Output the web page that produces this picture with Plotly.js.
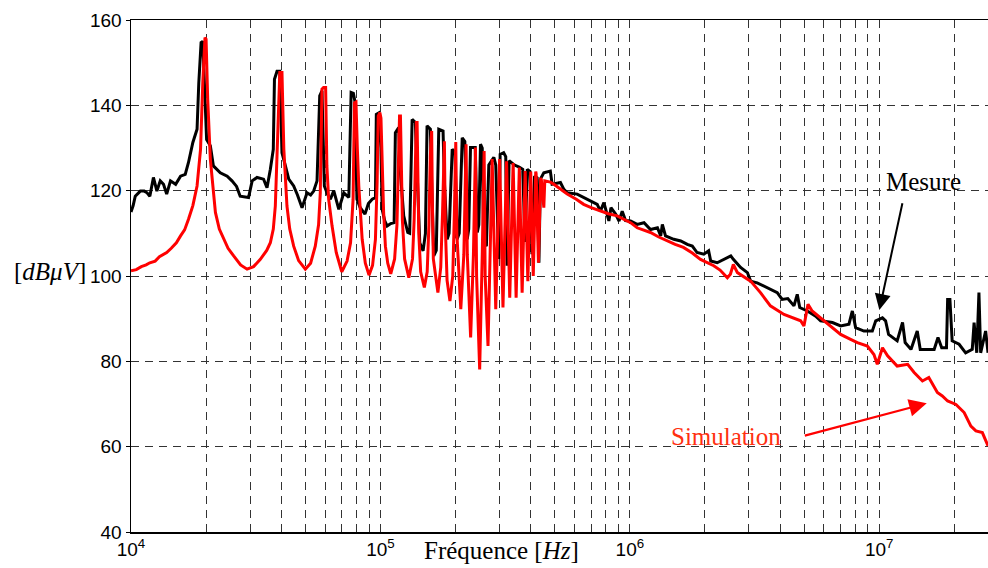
<!DOCTYPE html>
<html>
<head>
<meta charset="utf-8">
<script src="https://cdn.plot.ly/plotly-3.0.1.min.js"></script>
<style>html,body{margin:0;padding:0;background:#fff;}#chart{width:988px;height:568px;}</style>
</head>
<body>
<div id="chart"></div>
<script>
// Mesure (black) : frequency [Hz], level [dBµV]
const mesureFreq = [10000,10200,10400,10900,11300,11600,11900,12100,12300,12700,13100,13500,13900,14400,15100,15800,16500,17000,17700,18400,18700,19100,19400,19700,20100,20800,21400,22800,24300,25400,26500,27400,29600,30600,32000,34000,35100,36200,37200,37600,38500,39500,40300,41600,42900,44900,46500,48500,50800,52500,54000,55700,57100,58300,59600,61500,63000,65000,68100,71300,74700,76300,77900,79000,80500,83000,85700,86700,89500,92700,95500,96300,98400,100500,101600,104000,106400,110000,113500,114800,118400,120000,124000,128700,131000,134000,138000,140000,143800,148300,151500,153800,158600,160500,163600,167500,171400,178300,180500,185200,188500,194000,199000,203000,207000,212800,218000,222800,226000,229700,240000,244500,248000,251900,256000,259600,266000,272000,285000,290000,298000,302000,312000,318000,322000,328000,345000,360000,372000,380000,388000,398000,405000,415000,425000,432000,438000,452000,473000,480000,488000,527000,544000,561000,615000,675000,740000,762000,787000,824000,840000,877000,905000,932000,961000,1007000,1070000,1140000,1210000,1290000,1330000,1350000,1390000,1500000,1600000,1700000,1780000,1860000,1980000,2070000,2110000,2240000,2380000,2540000,2600000,2780000,2960000,3050000,3240000,3450000,3660000,3900000,4080000,4300000,4550000,4690000,4800000,5150000,5560000,5820000,6490000,7000000,7560000,7800000,8040000,8680000,9380000,9680000,10300000,10600000,10900000,11800000,12400000,12700000,13400000,14200000,14600000,15600000,16600000,17200000,17800000,18600000,18800000,19200000,19600000,20900000,22200000,23600000,24000000,24600000,25100000,25500000,26700000,27300000];
const mesureDb = [115,116.5,118.7,119.9,119.9,119.5,118.7,121,123.1,119.9,122.3,121.5,119.2,122.3,121.5,123.4,123.8,126.6,131.3,134.4,145.3,154.7,155,145,132,130.5,125.8,124.2,123.4,122.3,121,118.7,118.4,122.3,123.1,122.7,120.7,125,129.7,146.1,148,148,128.9,125.8,122.7,121.1,119,116,119.5,119,119.9,122.3,142.2,143.4,121.1,119,118,120,115.6,119.5,118.4,143,142.8,141,118,116,114.9,114.5,117,118,118.4,137.9,138.2,130,115.6,113,111.7,112.3,112.5,133.6,134.8,125,114.1,110.2,110,136.7,136,125,107.8,105.9,110,135.2,134.4,122,104.7,106,134.4,134,122,108.6,110,129.7,129,108.6,110,132.4,131.5,108.6,111,130.1,130.1,110.2,112,130.9,130,107.8,107,126,127.8,126,104,128.5,128.9,128,102.4,127,126,125.5,125,108,125,124.5,105.1,123.4,123,103.1,122.7,124.2,124.6,124.6,121.5,121.9,120.3,119.5,119.2,118,116.8,115.2,117.2,112.9,116,114.5,112.9,115.2,113,112.9,112.1,112.5,110.9,111.3,109.4,112.1,109.4,108.6,108.2,107.4,107,105.5,105.1,105.9,103.5,103.1,103.9,104.7,103.9,102,100.8,98.8,98.4,97.6,96.9,96.1,94.5,94.7,93,95.7,92.6,91.8,90.6,89.5,89.1,88.3,88.7,91.8,87.9,87.1,87.1,89.5,90.2,89.5,86.3,84.8,89.1,84.4,82.8,87.1,82.8,82.8,82.8,85.6,83.2,83.2,94.5,94.5,84.8,84,82,82.8,89.1,82,96.1,82,87.1,82];

// Simulation (red)
const simFreq = [10000,10500,11000,11500,11900,12500,13000,13900,14500,15200,15800,16400,17000,17700,18400,19000,19400,19800,20000,20300,20800,21800,22600,23500,24500,25800,27500,29200,31000,33000,35000,36200,37200,37900,38800,39500,40300,41000,42200,43300,44900,47000,50000,52500,54800,56500,57400,58300,59200,60300,61000,62000,64000,66500,70000,73500,75900,77700,78700,79800,80800,81900,84500,87000,90000,93000,95500,97000,98000,99500,100500,101600,103000,104700,107000,110000,114000,116500,118300,119300,120300,121000,122500,125000,130000,134500,136500,138300,139300,140300,141000,142500,145000,150000,154000,156500,158500,159500,160500,161500,163000,170000,174500,177500,179400,180500,182000,185000,190000,195000,198000,199500,200500,202500,210000,216000,219500,220500,223000,230000,236000,239500,240500,243000,250000,256000,259500,260500,263000,270000,276000,279500,280500,290000,299500,300500,310000,319500,320500,330000,339500,340500,350000,359500,360500,370000,379500,380500,390000,399500,400500,410000,419500,421000,430000,439000,442000,447000,452000,456000,480000,496000,530000,561000,610000,653000,700000,762000,820000,890000,1007000,1070000,1140000,1210000,1300000,1410000,1520000,1640000,1780000,1920000,2050000,2170000,2300000,2460000,2530000,2600000,2700000,2850000,3050000,3340000,3660000,4150000,4480000,4840000,4990000,5180000,5380000,5820000,6380000,7000000,7640000,8170000,8960000,9520000,9820000,10300000,10800000,11800000,13000000,13800000,14900000,15800000,17100000,17900000,18800000,20300000,21900000,23300000,24400000,25900000,27300000];
const simDb = [101.2,101.5,102.2,102.6,103.1,103.5,104.5,105.5,106.5,107.8,109.4,110.8,113.3,116.5,121.1,129.7,145.3,155.9,155.5,141.4,127.4,114.9,111,108.6,106.5,104.7,102.6,101.6,102.2,103.9,106,107.8,111,116.4,132,147.7,147.7,129.7,116.4,111,107,103.6,101.6,103,107,112,119.5,143.8,144.2,144.2,125.8,118,111.7,105.5,101,103.5,107.8,118,140.6,140.8,130,121.1,108.6,103,100.2,102.5,108.6,122,137.5,138.3,137,125.8,115,107,103,100.5,104,112,130,137.5,137.5,126,113,104,99.6,104,113,128,136,136,124,110,101,97.3,101,112,128,134,134,118,104,96.1,102,115,131.6,131.6,112,99,94.1,100,115,131.4,131.4,110,92.2,105,130.9,130.9,105,85.6,105,130.1,130.1,100,78.1,105,129.3,129.3,100,83.6,108,127.4,127.4,92.2,127.4,127.4,92.6,126.9,126.9,94.9,126.5,126.5,94.9,125.4,125.4,96.1,124.6,124.6,98.8,124.5,124.5,100,124.5,124,103.1,123,122.5,119,116,122.3,122,121.5,120.3,119.2,118,116.8,116,115.2,114.6,114.1,112.5,111.3,110.7,110.2,109.2,108.2,107.4,106.7,105.4,103.9,103.2,102.4,101.4,99.6,100.4,102.7,100.8,100,98.8,96.1,93,91,90.2,89.5,88.3,93.4,91.8,90.2,88.3,86.3,85.2,84.4,83.6,81.6,79.3,83.2,81.3,78.9,79.3,77.4,75.4,76.2,72.7,71.9,70.7,69.9,68,64.8,63.7,63.3,60.2];

// Axis ticks
const xTickVals = [1e4,1e5,1e6,1e7];
const xTickText = ['10<sup>4</sup>','10<sup>5</sup>','10<sup>6</sup>','10<sup>7</sup>'];
const xMinorVals = [2e4,3e4,4e4,5e4,6e4,7e4,8e4,9e4,2e5,3e5,4e5,5e5,6e5,7e5,8e5,9e5,2e6,3e6,4e6,5e6,6e6,7e6,8e6,9e6,2e7];
const yTickVals = [40,60,80,100,120,140,160];

const traces = [
  {x: mesureFreq, y: mesureDb, type: 'scatter', mode: 'lines', name: 'Mesure',
   line: {color: '#000000', width: 3}},
  {x: simFreq, y: simDb, type: 'scatter', mode: 'lines', name: 'Simulation',
   line: {color: '#ff0000', width: 3}}
];

const serif = 'Liberation Serif, Times New Roman, serif';
const sans = 'Liberation Sans, Arial, sans-serif';
const gridStyle = {gridcolor: '#333333', gridwidth: 1, griddash: '8px,6px'};
const layout = {
  width: 988, height: 568,
  margin: {l: 131, r: 0, t: 20, b: 36, pad: 0},
  paper_bgcolor: '#ffffff', plot_bgcolor: '#ffffff',
  showlegend: false,
  font: {family: sans, size: 19, color: '#000'},
  xaxis: Object.assign({
    type: 'log', range: [4, 7.436],
    tickmode: 'array', tickvals: xTickVals, ticktext: xTickText,
    showgrid: true,
    minor: Object.assign({tickmode: 'array', tickvals: xMinorVals, showgrid: true, ticks: ''}, gridStyle),
    showline: true, linecolor: '#000', linewidth: 1.5, mirror: true,
    ticks: '', zeroline: false,
    tickfont: {family: sans, size: 19, color: '#000'}
  }, gridStyle),
  yaxis: Object.assign({
    range: [40, 160], tickmode: 'array', tickvals: yTickVals,
    showgrid: true,
    showline: true, linecolor: '#000', linewidth: 1.5,
    ticks: 'outside', ticklen: 4, tickcolor: '#000', zeroline: false,
    tickfont: {family: sans, size: 19, color: '#000'}
  }, gridStyle),
  annotations: [
    {xref: 'paper', yref: 'paper', x: -0.0945, y: 0.508, xanchor: 'center', yanchor: 'middle',
     text: '[<i>dBμV</i>]', showarrow: false, font: {family: serif, size: 25, color: '#000'}},
    {xref: 'paper', yref: 'paper', x: 0.4323, y: -0.037, xanchor: 'center', yanchor: 'middle',
     text: 'Fréquence [<i>Hz</i>]', showarrow: false, font: {family: serif, size: 25, color: '#000'}},
    {xref: 'paper', yref: 'paper', x: 0.9247, y: 0.6855, xanchor: 'center', yanchor: 'middle',
     text: 'Mesure', showarrow: false, font: {family: serif, size: 25, color: '#000'}},
    {xref: 'paper', yref: 'paper', x: 0.6937, y: 0.1875, xanchor: 'center', yanchor: 'middle',
     text: 'Simulation', showarrow: false, font: {family: serif, size: 25, color: '#ff3010'}},
    {xref: 'paper', yref: 'paper', x: 0.8732, y: 0.4336, text: '', showarrow: true,
     ax: 23.4, ay: -108.3, arrowhead: 2, arrowsize: 1.6, arrowwidth: 2, arrowcolor: '#000'},
    {xref: 'paper', yref: 'paper', x: 0.9285, y: 0.2514, text: '', showarrow: true,
     ax: -123.4, ay: 32.7, arrowhead: 2, arrowsize: 1.6, arrowwidth: 2.2, arrowcolor: '#ff0000'}
  ]
};

Plotly.newPlot('chart', traces, layout, {staticPlot: true, displayModeBar: false});
</script>
</body>
</html>
